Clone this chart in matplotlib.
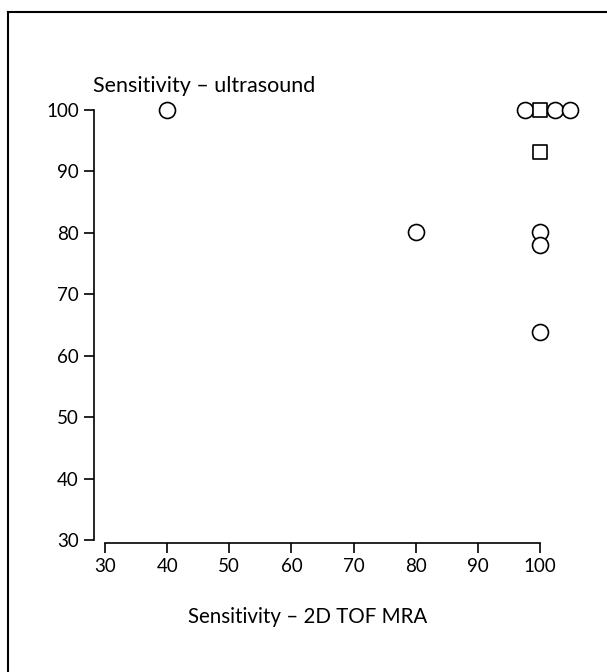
import matplotlib
matplotlib.use("Agg")
import matplotlib.pyplot as plt
from matplotlib.lines import Line2D

# Data
circle_x = [40, 80, 97.6, 102.4, 104.9, 100, 100, 100]
circle_y = [100, 80.2, 100, 100, 100, 80.2, 78.1, 63.9]
square_x = [100, 100]
square_y = [100, 93.2]
xticks = [30, 40, 50, 60, 70, 80, 90, 100]
yticks = [30, 40, 50, 60, 70, 80, 90, 100]
xlabel = "Sensitivity – 2D TOF MRA"
ylabel = "Sensitivity – ultrasound"

plt.rcParams['font.family'] = ['Lato', 'DejaVu Sans']

W, H = 607, 672
fig = plt.figure(figsize=(W / 100, H / 100), dpi=100)

def fx(px):
    return px / W

def fy(py):
    return 1 - py / H

left, right, bottom, top = 94, 590, 543, 100
ax = fig.add_axes([fx(left), fy(bottom), fx(right) - fx(left), fy(top) - fy(bottom)])

# scale: 30 -> 105px, 100 -> 540px
sx = (540 - 105) / 70.0
sy = (540 - 110) / 70.0
ax.set_xlim(30 - (105 - left) / sx, 100 + (right - 540) / sx)
ax.set_ylim(30 - (bottom - 540) / sy, 100 + (110 - top) / sy)

ax.scatter(circle_x, circle_y, s=11.5 ** 2, marker='o', facecolors='white',
           edgecolors='black', linewidths=1.2, zorder=3, clip_on=False)
ax.scatter(square_x, square_y, s=9.5 ** 2, marker='s', facecolors='white',
           edgecolors='black', linewidths=1.2, zorder=4, clip_on=False)

for s in ['top', 'right']:
    ax.spines[s].set_visible(False)
ax.spines['left'].set_bounds(30, 100)
ax.spines['bottom'].set_bounds(30, 100)
for s in ['left', 'bottom']:
    ax.spines[s].set_linewidth(1.2)

ax.set_xticks(xticks)
ax.set_yticks(yticks)
ax.set_xticklabels([str(t) for t in xticks])
ax.set_yticklabels([str(t) for t in yticks])
ax.tick_params(axis='both', length=7, width=1.2, labelsize=13.5, pad=4, color='black')

fig.text(fx(93), fy(86), ylabel, fontsize=15.5, ha='left', va='center')
fig.text(fx(308), fy(617), xlabel, fontsize=14.8, ha='center', va='center')

# frame (top and left edges)
fig.add_artist(Line2D([fx(8), 1.0], [fy(12), fy(12)], color='black', lw=1.5,
                      transform=fig.transFigure))
fig.add_artist(Line2D([fx(8), fx(8)], [fy(12), 0.0], color='black', lw=1.5,
                      transform=fig.transFigure))

fig.savefig("out.png", dpi=100, facecolor='white')
